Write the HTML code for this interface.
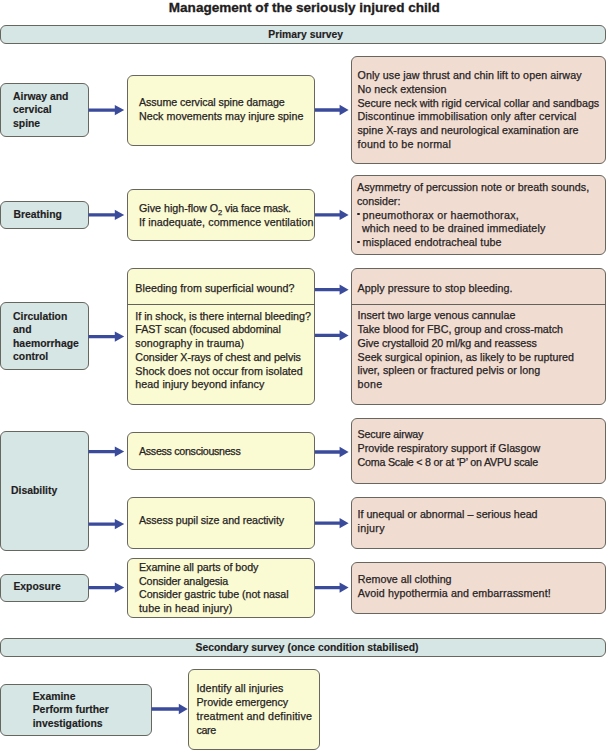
<!DOCTYPE html>
<html><head><meta charset="utf-8"><style>
html,body{margin:0;padding:0;background:#fff;}
body{width:606px;height:750px;position:relative;overflow:hidden;font-family:"Liberation Sans",sans-serif;color:#262324;}
.b{position:absolute;box-sizing:border-box;border:1.7px solid #67665f;border-radius:6px;}
.g{background:#d6e6e5;}
.y{background:#fbfbd3;}
.p{background:#f1dcd1;}
.t{position:absolute;-webkit-text-stroke:0.25px #262324;font-size:10.7px;line-height:13.75px;white-space:nowrap;}
.lb{position:absolute;-webkit-text-stroke:0.15px #1f1d1e;font-size:10.4px;line-height:13.4px;font-weight:bold;white-space:nowrap;color:#1f1d1e;}
.bar{position:absolute;left:0;width:606px;box-sizing:border-box;border:1.7px solid #67665f;border-radius:6px;background:#d6e6e5;font-weight:bold;font-size:10.35px;text-align:center;color:#1f1d1e;}
.bt{position:absolute;-webkit-text-stroke:0.15px #1f1d1e;font-weight:bold;font-size:10.35px;line-height:13px;white-space:nowrap;color:#1f1d1e;}
.dv{position:absolute;height:0;border-top:1.4px solid #62615b;}
.sub{font-size:7.5px;line-height:0;position:relative;top:2.5px;}
.bul{display:inline-block;width:2.4px;height:2.4px;border-radius:1.2px;background:#262324;margin-left:-0.2px;margin-right:3.3px;vertical-align:3.4px;}
svg{position:absolute;left:0;top:0;}
</style></head><body>
<div style="position:absolute;left:168.8px;top:0;font-weight:bold;font-size:13.55px;line-height:16px;white-space:nowrap;color:#1f1d1e;-webkit-text-stroke:0.3px #1f1d1e;">Management of the seriously injured child</div>
<div class="bar" style="top:24.8px;height:19.3px;"></div>
<div class="bt" style="left:268.3px;top:28px;">Primary survey</div>
<div class="bar" style="top:637.6px;height:19.4px;"></div>
<div class="bt" style="left:195.5px;top:641px;">Secondary survey (once condition stabilised)</div>
<div class="b g" style="left:0px;top:83px;width:89px;height:54px;"></div>
<div class="b y" style="left:126.8px;top:74.5px;width:188.6px;height:71.3px;"></div>
<div class="b p" style="left:350.7px;top:56.3px;width:255.3px;height:107.5px;"></div>
<div class="b g" style="left:0px;top:200.6px;width:89px;height:28.1px;"></div>
<div class="b y" style="left:126.8px;top:188.5px;width:188.6px;height:52.6px;"></div>
<div class="b p" style="left:350.7px;top:174.5px;width:255.3px;height:80.4px;"></div>
<div class="b g" style="left:0px;top:301.9px;width:89px;height:67.8px;"></div>
<div class="b y" style="left:126.8px;top:268px;width:188.6px;height:136.6px;"></div>
<div class="b p" style="left:350.7px;top:267.7px;width:255.3px;height:137px;"></div>
<div class="b g" style="left:0px;top:431px;width:89px;height:119.8px;"></div>
<div class="b y" style="left:126.8px;top:432px;width:188.6px;height:38.2px;"></div>
<div class="b y" style="left:126.8px;top:497.2px;width:188.6px;height:52px;"></div>
<div class="b p" style="left:350.7px;top:417.9px;width:255.3px;height:66.3px;"></div>
<div class="b p" style="left:350.7px;top:497.2px;width:255.3px;height:52px;"></div>
<div class="b g" style="left:0px;top:573.6px;width:89px;height:28.3px;"></div>
<div class="b y" style="left:126.8px;top:557.9px;width:188.6px;height:60.4px;"></div>
<div class="b p" style="left:350.7px;top:561.7px;width:255.3px;height:52.2px;"></div>
<div class="b g" style="left:0px;top:683.5px;width:152.2px;height:52.3px;"></div>
<div class="b y" style="left:188.1px;top:669.4px;width:132.2px;height:80.6px;"></div>
<div style="position:absolute;left:357.0px;top:212.7px;width:2.6px;height:2.6px;border-radius:1.3px;background:#262324;"></div>
<div style="position:absolute;left:357.0px;top:240.5px;width:2.6px;height:2.6px;border-radius:1.3px;background:#262324;"></div>
<div class="dv" style="left:126.8px;top:303.75px;width:188.6px;"></div>
<div class="dv" style="left:350.7px;top:303.75px;width:255.3px;"></div>
<div class="lb" style="left:13px;top:90.0px;">Airway and<br>cervical<br>spine</div>
<div class="t" style="left:139px;top:96.3px;"><span style="letter-spacing:-0.081px">Assume cervical spine damage</span><br><span style="letter-spacing:0.033px">Neck movements may injure spine</span></div>
<div class="t" style="left:357.5px;top:69.0px;"><span style="letter-spacing:0.077px">Only use jaw thrust and chin lift to open airway</span><br><span style="letter-spacing:0.062px">No neck extension</span><br><span style="letter-spacing:-0.014px">Secure neck with rigid cervical collar and sandbags</span><br><span style="letter-spacing:0.136px">Discontinue immobilisation only after cervical</span><br><span style="letter-spacing:0.025px">spine X-rays and neurological examination are</span><br><span style="letter-spacing:0.253px">found to be normal</span></div>
<div class="lb" style="left:13.4px;top:208.0px;">Breathing</div>
<div class="t" style="left:139px;top:202.0px;">Give high-flow O<span class='sub'>2</span><span style='letter-spacing:-0.17px'> via face mask.</span><br><span style="letter-spacing:0.097px">If inadequate, commence ventilation</span></div>
<div class="t" style="left:357px;top:181.0px;"><span style="letter-spacing:0.049px">Asymmetry of percussion note or breath sounds,</span><br>consider:<br><span style="letter-spacing:0.263px"><span style='padding-left:5.5px'></span>pneumothorax or haemothorax,</span><br><span style="letter-spacing:0.109px"><span style='padding-left:5px'></span>which need to be drained immediately</span><br><span style="letter-spacing:0.088px"><span style='padding-left:5.5px'></span>misplaced endotracheal tube</span></div>
<div class="lb" style="left:13px;top:310.0px;">Circulation<br>and<br>haemorrhage<br>control</div>
<div class="t" style="left:135.3px;top:282.0px;"><span style="letter-spacing:0.052px">Bleeding from superficial wound?</span></div>
<div class="t" style="left:135.3px;top:309.7px;"><span style="letter-spacing:-0.023px">If in shock, is there internal bleeding?</span><br><span style="letter-spacing:-0.104px">FAST scan (focused abdominal</span><br><span style="letter-spacing:0.095px">sonography in trauma)</span><br><span style="letter-spacing:-0.076px">Consider X-rays of chest and pelvis</span><br><span style="letter-spacing:0.015px">Shock does not occur from isolated</span><br><span style="letter-spacing:0.076px">head injury beyond infancy</span></div>
<div class="t" style="left:357.5px;top:282.0px;"><span style="letter-spacing:0.071px">Apply pressure to stop bleeding.</span></div>
<div class="t" style="left:357.5px;top:309.3px;"><span style="letter-spacing:0.035px">Insert two large venous cannulae</span><br><span style="letter-spacing:-0.033px">Take blood for FBC, group and cross-match</span><br><span style="letter-spacing:-0.084px">Give crystalloid 20 ml/kg and reassess</span><br><span style="letter-spacing:0.030px">Seek surgical opinion, as likely to be ruptured</span><br><span style="letter-spacing:0.068px">liver, spleen or fractured pelvis or long</span><br><span style="letter-spacing:0.300px">bone</span></div>
<div class="lb" style="left:11px;top:484.0px;">Disability</div>
<div class="t" style="left:139px;top:445.0px;"><span style="letter-spacing:-0.305px">Assess consciousness</span></div>
<div class="t" style="left:139px;top:514.0px;"><span style="letter-spacing:-0.090px">Assess pupil size and reactivity</span></div>
<div class="t" style="left:357.5px;top:428.3px;"><span style="letter-spacing:-0.150px">Secure airway</span><br><span style="letter-spacing:0.041px">Provide respiratory support if Glasgow</span><br><span style="letter-spacing:-0.214px">Coma Scale &lt; 8 or at ‘P’ on AVPU scale</span></div>
<div class="t" style="left:357.5px;top:508.20000000000005px;">If unequal or abnormal – serious head<br><span style="letter-spacing:0.300px">injury</span></div>
<div class="lb" style="left:13.4px;top:580.3px;">Exposure</div>
<div class="t" style="left:139px;top:560.8px;"><span style="letter-spacing:-0.025px">Examine all parts of body</span><br><span style="letter-spacing:-0.135px">Consider analgesia</span><br><span style="letter-spacing:-0.042px">Consider gastric tube (not nasal</span><br><span style="letter-spacing:0.121px">tube in head injury)</span></div>
<div class="t" style="left:357.8px;top:573.2px;"><span style="letter-spacing:0.028px">Remove all clothing</span><br><span style="letter-spacing:0.103px">Avoid hypothermia and embarrassment!</span></div>
<div class="lb" style="left:32.7px;top:689.8px;">Examine<br>Perform further<br>investigations</div>
<div class="t" style="left:196.5px;top:682.3px;"><span style="letter-spacing:0.095px">Identify all injuries</span><br><span style="letter-spacing:-0.025px">Provide emergency</span><br><span style="letter-spacing:0.187px">treatment and definitive</span><br><span style="letter-spacing:-0.367px">care</span></div>
<svg width="606" height="750" viewBox="0 0 606 750"><g fill="#3b4b9c"><path d="M88.5,108.45H114.8V104.95L124.2,110.1L114.8,115.25V111.75H88.5Z"/><path d="M315,108.35H339.6V104.85L348.6,110L339.6,115.15V111.65H315Z"/><path d="M88.5,213.25H114.8V209.75L124.2,214.9L114.8,220.05V216.55H88.5Z"/><path d="M315,213.25H339.6V209.75L348.6,214.9L339.6,220.05V216.55H315Z"/><path d="M88.5,334.95H114.8V331.45L124.2,336.6L114.8,341.75V338.25H88.5Z"/><path d="M315,288.05H339.6V284.55L348.6,289.7L339.6,294.85V291.35H315Z"/><path d="M315,333.75H339.6V330.25L348.6,335.4L339.6,340.55V337.05H315Z"/><path d="M88.5,449.95H114.8V446.45L124.2,451.6L114.8,456.75V453.25H88.5Z"/><path d="M315,450.35H339.6V446.85L348.6,452L339.6,457.15V453.65H315Z"/><path d="M88.5,522.45H114.8V518.95L124.2,524.1L114.8,529.25V525.75H88.5Z"/><path d="M315,521.55H339.6V518.05L348.6,523.2L339.6,528.35V524.85H315Z"/><path d="M88.5,585.95H114.8V582.45L124.2,587.6L114.8,592.75V589.25H88.5Z"/><path d="M315,585.95H339.6V582.45L348.6,587.6L339.6,592.75V589.25H315Z"/><path d="M151.5,707.35H178.8V703.85L187.7,709L178.8,714.15V710.65H151.5Z"/></g></svg>
</body></html>
